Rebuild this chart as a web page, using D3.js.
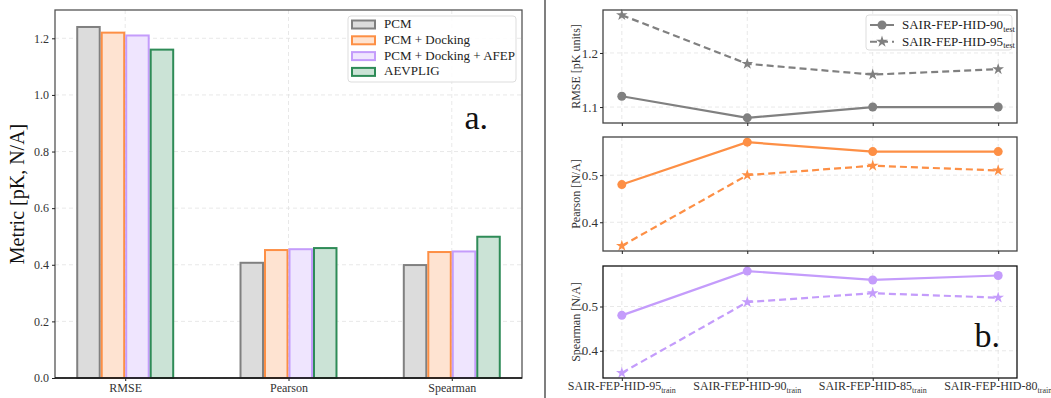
<!DOCTYPE html>
<html>
<head>
<meta charset="utf-8">
<script src="https://cdn.jsdelivr.net/npm/d3@7"></script>
<style>
  body { margin: 0; background: #fff; }
</style>
</head>
<body>
<div id="chart"></div>
<script>
// ---- data: left panel (bars)
var barCategories = ['RMSE', 'Pearson', 'Spearman']
var barSeries = ['PCM', 'PCM + Docking', 'PCM + Docking + AFEP', 'AEVPLIG']
var pcmVals = [1.24, 0.407, 0.399]
var pcmDockVals = [1.22, 0.452, 0.445]
var pcmDockAfepVals = [1.21, 0.455, 0.447]
var aevpligVals = [1.16, 0.459, 0.499]
var barYTicks = [0.0, 0.2, 0.4, 0.6, 0.8, 1.0, 1.2]

// ---- data: right panels (lines)
var trainSets = ['SAIR-FEP-HID-95', 'SAIR-FEP-HID-90', 'SAIR-FEP-HID-85', 'SAIR-FEP-HID-80']
var testSets = ['SAIR-FEP-HID-90', 'SAIR-FEP-HID-95']
var rmse90 = [1.12, 1.08, 1.10, 1.10]
var rmse95 = [1.27, 1.18, 1.16, 1.17]
var pearson90 = [0.48, 0.57, 0.55, 0.55]
var pearson95 = [0.35, 0.50, 0.52, 0.51]
var spearman90 = [0.48, 0.58, 0.56, 0.57]
var spearman95 = [0.35, 0.51, 0.53, 0.52]

var FONT = '"Liberation Serif", "Times New Roman", serif'
var colors = {
    gray: '#808080', grayFill: '#dcdcdc',
    orange: '#fd8f45', orangeFill: '#fee3d1',
    purple: '#c49cfb', purpleFill: '#efe5fe',
    green: '#2e8b57', greenFill: '#cbe3d6',
    grid: '#e2e2e2', frame: '#555', text: '#333'
}
var barStroke = [colors.gray, colors.orange, colors.purple, colors.green]
var barFill = [colors.grayFill, colors.orangeFill, colors.purpleFill, colors.greenFill]
var barValues = [pcmVals, pcmDockVals, pcmDockAfepVals, aevpligVals]

var svg = d3.select('#chart').append('svg')
    .attr('width', 1051)
    .attr('height', 398)
    .attr('font-family', FONT)

// ================= left panel =================
var L = {left: 55, right: 522, top: 10, bottom: 378}
var xBar = d3.scaleLinear().domain([-0.43, 2.43]).range([L.left, L.right])
var yBar = d3.scaleLinear().domain([0, 1.3]).range([L.bottom, L.top])
var barW = 0.15

var left = svg.append('g')

// grid
left.selectAll('.hgrid').data(barYTicks).enter().append('line')
    .attr('x1', L.left).attr('x2', L.right)
    .attr('y1', d => yBar(d)).attr('y2', d => yBar(d))
    .attr('stroke', colors.grid).attr('stroke-width', 0.8).attr('stroke-dasharray', '4,3')
left.selectAll('.vgrid').data(barCategories).enter().append('line')
    .attr('x1', (d, i) => xBar(i)).attr('x2', (d, i) => xBar(i))
    .attr('y1', L.top).attr('y2', L.bottom)
    .attr('stroke', colors.grid).attr('stroke-width', 0.8).attr('stroke-dasharray', '4,3')

// bars
barSeries.forEach(function(name, s) {
    var off = (s - 1.5) * barW
    left.selectAll('.bar' + s).data(barValues[s]).enter().append('rect')
        .attr('x', (d, i) => xBar(i + off - barW / 2) + 1)
        .attr('width', xBar(barW) - xBar(0) - 2)
        .attr('y', d => yBar(d))
        .attr('height', d => yBar(0) - yBar(d))
        .attr('fill', barFill[s])
        .attr('stroke', barStroke[s])
        .attr('stroke-width', 2)
})

// frame
left.append('rect')
    .attr('x', L.left).attr('y', L.top)
    .attr('width', L.right - L.left).attr('height', L.bottom - L.top)
    .attr('fill', 'none').attr('stroke', colors.frame).attr('stroke-width', 1.3)
left.append('line')
    .attr('x1', L.left).attr('x2', L.right).attr('y1', L.bottom).attr('y2', L.bottom)
    .attr('stroke', '#111').attr('stroke-width', 1.3)

// axes
var yAxisL = left.append('g').attr('transform', 'translate(' + L.left + ',0)')
    .call(d3.axisLeft(yBar).tickValues(barYTicks).tickFormat(d3.format('.1f')).tickSize(3))
var xAxisL = left.append('g').attr('transform', 'translate(0,' + L.bottom + ')')
    .call(d3.axisBottom(xBar).tickValues([0, 1, 2]).tickFormat(i => barCategories[i]).tickSize(3))
;[yAxisL, xAxisL].forEach(function(a) {
    a.attr('font-family', FONT)
    a.select('.domain').remove()
    a.selectAll('text').attr('font-size', 12).attr('fill', colors.text)
    a.selectAll('line').attr('stroke', '#222')
})
yAxisL.selectAll('text').attr('x', -6)
xAxisL.selectAll('text').attr('y', 5)

left.append('text')
    .attr('transform', 'translate(24,' + ((L.top + L.bottom) / 2) + ') rotate(-90)')
    .attr('text-anchor', 'middle')
    .attr('font-size', 20)
    .attr('fill', '#111')
    .text('Metric [pK, N/A]')

left.append('text')
    .attr('x', 488).attr('y', 129)
    .attr('text-anchor', 'end')
    .attr('font-size', 34)
    .attr('fill', '#111')
    .text('a.')

// legend
var lg = left.append('g').attr('transform', 'translate(348,16)')
lg.append('rect').attr('width', 168).attr('height', 66).attr('rx', 3)
    .attr('fill', 'white').attr('fill-opacity', 0.85)
    .attr('stroke', '#ddd').attr('stroke-width', 1)
barSeries.forEach(function(name, s) {
    var yy = 8 + s * 15.8
    lg.append('rect').attr('x', 4).attr('y', yy - 3.5).attr('width', 23).attr('height', 8)
        .attr('fill', barFill[s]).attr('stroke', barStroke[s]).attr('stroke-width', 2)
    lg.append('text').attr('x', 36).attr('y', yy + 4)
        .attr('font-size', 13).attr('fill', '#222').text(name)
})

// separator
svg.append('line')
    .attr('x1', 545).attr('x2', 545).attr('y1', 0).attr('y2', 398)
    .attr('stroke', '#555').attr('stroke-width', 1.5)

// ================= right panels =================
var R = {left: 603, right: 1017}
var xLine = d3.scaleLinear().domain([-0.15, 3.15]).range([R.left, R.right])

var panels = [
    {top: 10, bottom: 123, domain: [1.0705, 1.2795], ticks: [1.1, 1.2], label: 'RMSE [pK units]',
     color: colors.gray, a: rmse90, b: rmse95},
    {top: 137, bottom: 251, domain: [0.339, 0.581], ticks: [0.4, 0.5], label: 'Pearson [N/A]',
     color: colors.orange, a: pearson90, b: pearson95},
    {top: 266, bottom: 378, domain: [0.3385, 0.5915], ticks: [0.4, 0.5], label: 'Spearman [N/A]',
     color: colors.purple, a: spearman90, b: spearman95}
]

var star = d3.symbol().type(d3.symbolStar).size(42)

panels.forEach(function(p, k) {
    var g = svg.append('g')
    var y = d3.scaleLinear().domain(p.domain).range([p.bottom, p.top])

    g.selectAll('.hg').data(p.ticks).enter().append('line')
        .attr('x1', R.left).attr('x2', R.right)
        .attr('y1', d => y(d)).attr('y2', d => y(d))
        .attr('stroke', colors.grid).attr('stroke-width', 0.8).attr('stroke-dasharray', '4,3')
    g.selectAll('.vg').data(trainSets).enter().append('line')
        .attr('x1', (d, i) => xLine(i)).attr('x2', (d, i) => xLine(i))
        .attr('y1', p.top).attr('y2', p.bottom)
        .attr('stroke', colors.grid).attr('stroke-width', 0.8).attr('stroke-dasharray', '4,3')

    var line = d3.line().x((d, i) => xLine(i)).y(d => y(d))

    g.append('path').datum(p.b).attr('d', line)
        .attr('fill', 'none').attr('stroke', p.color).attr('stroke-width', 2.2)
        .attr('stroke-dasharray', '7,4')
    g.append('path').datum(p.a).attr('d', line)
        .attr('fill', 'none').attr('stroke', p.color).attr('stroke-width', 2.2)

    g.selectAll('.dot').data(p.a).enter().append('circle')
        .attr('cx', (d, i) => xLine(i)).attr('cy', d => y(d)).attr('r', 4.5)
        .attr('fill', p.color)
    g.selectAll('.star').data(p.b).enter().append('path')
        .attr('d', star)
        .attr('transform', (d, i) => 'translate(' + xLine(i) + ',' + y(d) + ')')
        .attr('fill', p.color)

    g.append('rect')
        .attr('x', R.left).attr('y', p.top)
        .attr('width', R.right - R.left).attr('height', p.bottom - p.top)
        .attr('fill', 'none').attr('stroke', k == 2 ? '#111' : '#444').attr('stroke-width', 1.3)

    var ya = g.append('g').attr('transform', 'translate(' + R.left + ',0)')
        .call(d3.axisLeft(y).tickValues(p.ticks).tickFormat(d3.format('.1f')).tickSize(3))
    ya.attr('font-family', FONT)
    ya.select('.domain').remove()
    ya.selectAll('text').attr('font-size', 13).attr('fill', colors.text).attr('x', -5)
    ya.selectAll('line').attr('stroke', '#222')

    var xa = g.append('g').attr('transform', 'translate(0,' + p.bottom + ')')
        .call(d3.axisBottom(xLine).tickValues([0, 1, 2, 3]).tickFormat('').tickSize(3))
    xa.select('.domain').remove()
    xa.selectAll('line').attr('stroke', '#222')

    g.append('text')
        .attr('transform', 'translate(580,' + ((p.top + p.bottom) / 2) + ') rotate(-90)')
        .attr('text-anchor', 'middle')
        .attr('font-size', 12)
        .attr('fill', colors.text)
        .text(p.label)
})

// bottom tick labels with subscripts
var xl = svg.append('g')
trainSets.forEach(function(name, i) {
    var t = xl.append('text')
        .attr('x', xLine(i)).attr('y', 390)
        .attr('text-anchor', 'middle')
        .attr('font-size', 12).attr('fill', colors.text)
    t.append('tspan').text(name)
    t.append('tspan').attr('font-size', 8).attr('dy', 2.5).text('train')
})

svg.append('text')
    .attr('x', 1000).attr('y', 347)
    .attr('text-anchor', 'end')
    .attr('font-size', 34)
    .attr('fill', '#111')
    .text('b.')

// legend right
var rl = svg.append('g').attr('transform', 'translate(866,15)')
rl.append('rect').attr('width', 146).attr('height', 35).attr('rx', 3)
    .attr('fill', 'white').attr('fill-opacity', 0.85)
    .attr('stroke', '#ddd').attr('stroke-width', 1)
testSets.forEach(function(name, s) {
    var yy = 10 + s * 16.7
    rl.append('line').attr('x1', 4).attr('x2', 28).attr('y1', yy).attr('y2', yy)
        .attr('stroke', colors.gray).attr('stroke-width', 2)
        .attr('stroke-dasharray', s == 1 ? '7,4' : null)
    if (s == 0) {
        rl.append('circle').attr('cx', 16).attr('cy', yy).attr('r', 4.5).attr('fill', colors.gray)
    } else {
        rl.append('path').attr('d', star).attr('transform', 'translate(16,' + yy + ')').attr('fill', colors.gray)
    }
    var t = rl.append('text').attr('x', 36).attr('y', yy + 4)
        .attr('font-size', 13).attr('fill', '#222')
    t.append('tspan').text(name)
    t.append('tspan').attr('font-size', 8.5).attr('dy', 2.5).text('test')
})
</script>
</body>
</html>
